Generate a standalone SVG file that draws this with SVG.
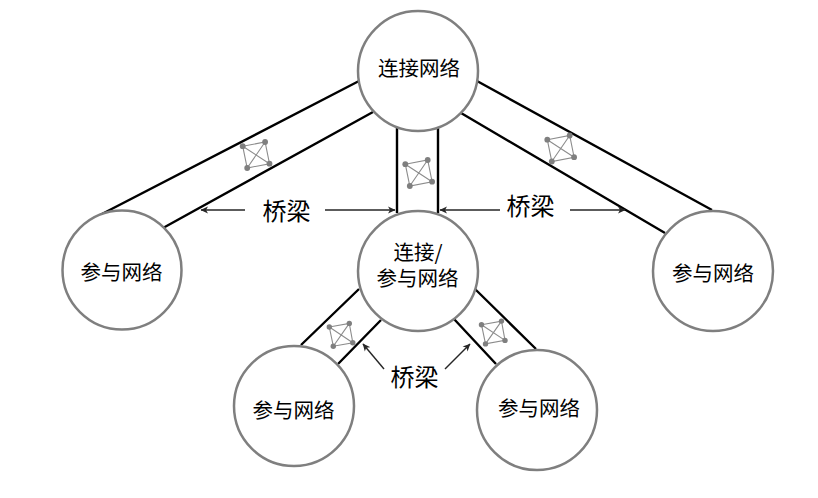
<svg xmlns="http://www.w3.org/2000/svg" width="818" height="498" viewBox="0 0 818 498">
<style>
.c{fill:#fff;stroke:#7f7f7f;stroke-width:2.5}
.l{stroke:#000;stroke-width:2.4;fill:none;stroke-linecap:butt}
.a{stroke:#262626;stroke-width:1.4;fill:none;marker-end:url(#ah)}
.m{stroke:#8c8c8c;stroke-width:1.1;fill:none}
.d{fill:#7f7f7f}
text{font-family:"Noto Sans CJK SC","Liberation Sans",sans-serif;fill:#000;text-anchor:middle}
.n{font-size:20.5px}
.b{font-size:24px}
</style>
<defs>
<marker id="ah" markerWidth="9" markerHeight="8" refX="7.5" refY="4" orient="auto" markerUnits="userSpaceOnUse"><path d="M0.5 0.5L8 4L0.5 7.5L2.5 4Z" fill="#262626"/></marker>
<g id="mesh"><path class="m" d="M0 4.5L22.4 .3L26.8 22L4.5 26.3ZM0 4.5L26.8 22M22.4 .3L4.5 26.3"/><circle class="d" cx="0" cy="4.5" r="2.9"/><circle class="d" cx="22.4" cy=".3" r="2.9"/><circle class="d" cx="26.8" cy="22" r="2.9"/><circle class="d" cx="4.5" cy="26.3" r="2.9"/></g>
<g id="meshs"><path class="m" d="M0 3.8L20 .2L23.5 19.5L4 23ZM0 3.8L23.5 19.5M20 .2L4 23"/><circle class="d" cx="0" cy="3.8" r="2.7"/><circle class="d" cx="20" cy=".2" r="2.7"/><circle class="d" cx="23.5" cy="19.5" r="2.7"/><circle class="d" cx="4" cy="23" r="2.7"/></g>
</defs>
<g id="connectors">
<path class="l" d="M359 81L100 215M373 112L163 228M397 127V213M438 127V213M477 81L712 210M461 113L665 233M359 289L301 345M381 320L338 364M475 289L536 349M454 319L496 364"/>
<path class="a" d="M245 210H201"/><path class="a" d="M325 210H395"/><path class="a" d="M500 210H440"/><path class="a" d="M570 210H625"/><path class="a" d="M384 369L363 344"/><path class="a" d="M445 369L470 344"/>
</g>
<g id="bridges">
<use href="#mesh" x="242.7" y="141.7"/><use href="#mesh" x="405.3" y="159.7"/><use href="#mesh" x="547.3" y="135.2"/>
<use href="#meshs" x="329.3" y="323.2"/><use href="#meshs" x="481.5" y="320.9"/>
</g>
<g id="node-top"><circle class="c" cx="418" cy="71" r="60"/><text class="n" x="419" y="76">连接网络</text></g>
<g id="node-mid"><circle class="c" cx="418" cy="271" r="60"/><text class="n"><tspan x="418" y="260">连接/</tspan><tspan x="417.5" y="286">参与网络</tspan></text></g>
<g id="node-left"><circle class="c" cx="122" cy="270" r="59.5"/><text class="n" x="121.5" y="280">参与网络</text></g>
<g id="node-right"><circle class="c" cx="713" cy="271" r="60"/><text class="n" x="713" y="281">参与网络</text></g>
<g id="node-ll"><circle class="c" cx="294" cy="406" r="60"/><text class="n" x="293.5" y="418">参与网络</text></g>
<g id="node-lr"><circle class="c" cx="537" cy="410" r="60"/><text class="n" x="539" y="416">参与网络</text></g>
<text class="b" x="286.5" y="220">桥梁</text>
<text class="b" x="530.5" y="215">桥梁</text>
<text class="b" x="414.5" y="386">桥梁</text>
</svg>
